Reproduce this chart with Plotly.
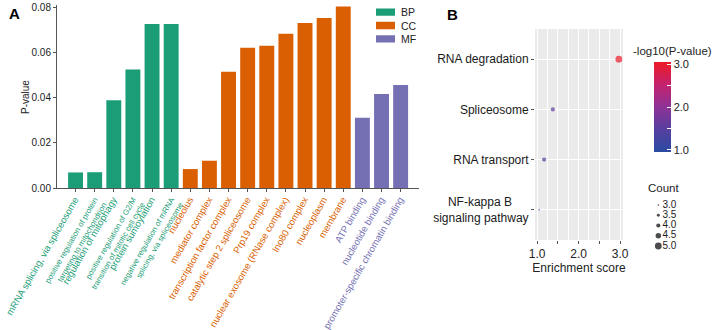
import plotly.graph_objects as go

# ---------------- Panel A data ----------------
bp_terms = ["mRNA splicing, via spliceosome",
            "positive regulation of protein<br>targeting to mitochondrion",
            "regulation of mitophagy",
            "positive regulation of G2/M<br>transition of mitotic cell cycle",
            "protein sumoylation",
            "negative regulation of mRNA<br>splicing, via spliceosome"]
bp_vals = [0.0069, 0.0070, 0.0389, 0.0526, 0.0728, 0.0728]

cc_terms = ["nucleolus", "mediator complex", "transcription factor complex",
            "catalytic step 2 spliceosome", "Prp19 complex",
            "nuclear exosome (RNase complex)", "Ino80 complex", "nucleoplasm", "membrane"]
cc_vals = [0.0084, 0.0121, 0.0516, 0.0622, 0.0631, 0.0684, 0.0732, 0.0754, 0.0805]

mf_terms = ["ATP binding", "nucleotide binding", "promoter-specific chromatin binding"]
mf_vals = [0.0312, 0.0417, 0.0457]

group_names = ["BP", "CC", "MF"]

y_ticks_a = [0.0, 0.02, 0.04, 0.06, 0.08]
y_ticklabels_a = ["0.00", "0.02", "0.04", "0.06", "0.08"]

# ---------------- Panel B data ----------------
pathways = ["RNA degradation", "Spliceosome", "RNA transport", "NF-kappa B signaling pathway"]
pathway_labels = ["RNA degradation", "Spliceosome", "RNA transport",
                  "NF-kappa B&nbsp;&nbsp;&nbsp;&nbsp;&nbsp;<br>signaling pathway"]
enrichment = [2.97, 1.38, 1.17, 1.05]
neglog_p = [3.02, 1.55, 1.35, 1.02]
counts = [5, 4, 4, 3]
count_levels = [3.0, 3.5, 4.0, 4.5, 5.0]
count_labels = ["3.0", "3.5", "4.0", "4.5", "5.0"]
x_ticks_b = [1, 1.5, 2, 2.5, 3]
x_ticklabels_b = ["1.0", "", "2.0", "", "3.0"]

COL = {"BP": "#1B9E77", "CC": "#D95F02", "MF": "#7570B3"}
FONT = "Liberation Sans, Arial, sans-serif"
W, H = 716, 330

def size_of(c):
    return 1.6 + (c - 3.0) * 2.6

fig = go.Figure()

groups = [("BP", bp_terms, bp_vals), ("CC", cc_terms, cc_vals), ("MF", mf_terms, mf_vals)]
all_terms = []
tick_text = []
for name, terms, vals in groups:
    fig.add_trace(go.Bar(x=terms, y=vals, name=name, marker_color=COL[name],
                         marker_line_width=0, xaxis="x", yaxis="y", showlegend=False))
    for t in terms:
        all_terms.append(t)
        if "<br>" in t:
            parts = t.split("<br>")
            tick_text.append("<br>".join(
                f"<span style='color:{COL[name]}'>{p}</span>" for p in parts))
        else:
            tick_text.append(f"<span style='font-size:9.5px;color:{COL[name]}'>{t}</span>")

# Group key (BP / CC / MF) drawn as small horizontal bars on a hidden axis
fig.add_trace(go.Bar(y=group_names, x=[1] * len(group_names), orientation="h",
                     xaxis="x3", yaxis="y3", width=0.55, showlegend=False,
                     marker_color=[COL[g] for g in group_names], marker_line_width=0,
                     text=["&nbsp;" + g for g in group_names], textposition="outside",
                     cliponaxis=False, constraintext="none", textangle=0,
                     textfont=dict(size=10.5, color="#222"), hoverinfo="skip"))

# Panel B bubbles
cs = [[0.0, "#2a4ba2"], [0.25, "#563f9f"], [0.5, "#8e3296"], [0.75, "#c4226e"], [1.0, "#ee1b26"]]
fig.add_trace(go.Scatter(
    x=enrichment, y=pathways, mode="markers", xaxis="x2", yaxis="y2", showlegend=False,
    marker=dict(size=[size_of(c) for c in counts], color=neglog_p, colorscale=cs,
                cmin=0.95, cmax=3.05, line_width=0,
                colorbar=dict(x=654/W, xanchor="left", y=1-62/H, yanchor="top",
                              len=90/H, lenmode="fraction", thickness=17, xpad=0, ypad=0,
                              outlinewidth=0, ticks="inside", ticklen=4, tickcolor="white",
                              tickvals=[1, 1.5, 2, 2.5, 3],
                              ticktext=["1.0", "", "2.0", "", "3.0"],
                              tickfont=dict(size=11, color="#222", family=FONT)))))

# Count key drawn on a hidden axis
fig.add_trace(go.Scatter(x=[0] * len(count_levels), y=count_levels, mode="markers",
                         xaxis="x4", yaxis="y4", showlegend=False, cliponaxis=False,
                         hoverinfo="skip",
                         marker=dict(size=[size_of(c) for c in count_levels], color="black",
                                     line_width=0)))
fig.add_trace(go.Scatter(x=[0.1] * len(count_levels), y=count_levels, mode="text",
                         xaxis="x4", yaxis="y4", showlegend=False, cliponaxis=False,
                         text=count_labels, textposition="middle right",
                         textfont=dict(size=10, color="#222"), hoverinfo="skip"))

hidden = dict(visible=False, showgrid=False, zeroline=False, fixedrange=True)

fig.update_layout(
    width=W, height=H, margin=dict(l=0, r=0, t=0, b=0, autoexpand=False),
    paper_bgcolor="white", plot_bgcolor="white",
    font=dict(family=FONT, color="#222"),
    bargap=0.22, showlegend=False,
    xaxis=dict(domain=[57/W, 419/W], range=[-0.97, 17.96], tickmode="array",
               tickvals=all_terms, ticktext=tick_text, tickangle=-60,
               tickfont=dict(size=7.8, family=FONT), ticks="outside", ticklen=3,
               tickcolor="#555", showline=True, linecolor="#555", linewidth=1,
               showgrid=False, anchor="y", automargin=False),
    yaxis=dict(domain=[(H-188)/H, 325/H], range=[0, 0.0812], tickvals=y_ticks_a,
               ticktext=y_ticklabels_a, ticks="outside", ticklen=3, tickcolor="#555",
               showline=True, linecolor="#555", linewidth=1, showgrid=False, zeroline=False,
               tickfont=dict(size=10, color="#222"), automargin=False, anchor="x"),
    xaxis2=dict(domain=[535/W, 623/W], range=[0.95, 3.07], anchor="y2",
                tickvals=x_ticks_b, ticktext=x_ticklabels_b,
                ticks="outside", ticklen=3, tickcolor="#555", automargin=False,
                tickfont=dict(size=12, color="#222"),
                showgrid=True, gridcolor="white", gridwidth=1,
                minor=dict(dtick=0.25, tick0=1, showgrid=True, gridcolor="white", gridwidth=0.6),
                zeroline=False, showline=False,
                title=dict(text="Enrichment score", font=dict(size=12), standoff=0)),
    yaxis2=dict(domain=[90/H, 301/H], anchor="x2", type="category",
                categoryorder="array", categoryarray=pathways[::-1], range=[-0.6, 3.6],
                tickmode="array", tickvals=pathways, ticktext=pathway_labels,
                ticks="outside", ticklen=3, tickcolor="#555", automargin=False,
                tickfont=dict(size=12, color="#1a1a1a"),
                showgrid=True, gridcolor="white", gridwidth=1, zeroline=False),
    xaxis3=dict(domain=[376/W, 433/W], range=[0, 3], anchor="y3", **hidden),
    yaxis3=dict(domain=[1-45.5/H, 1-5.5/H], range=[2.5, -0.5], anchor="x3", type="category",
                categoryorder="array", categoryarray=group_names, **hidden),
    xaxis4=dict(domain=[650/W, 700/W], range=[-0.2, 1], anchor="y4", **hidden),
    yaxis4=dict(domain=[1-250/H, 1-201/H], range=[5.195, 2.805], anchor="x4", **hidden),
    annotations=[
        dict(text="<b>A</b>", x=15/W, y=1-13.5/H, xref="paper", yref="paper",
             showarrow=False, font=dict(size=15, color="black"), xanchor="center",
             yanchor="middle"),
        dict(text="<b>B</b>", x=453/W, y=1-15/H, xref="paper", yref="paper",
             showarrow=False, font=dict(size=15, color="black"), xanchor="center",
             yanchor="middle"),
        dict(text="P-value", x=25/W, y=1-97/H, xref="paper", yref="paper", textangle=-90,
             showarrow=False, font=dict(size=10, color="#222"), xanchor="center",
             yanchor="middle"),
        dict(text="-log10(P-value)", x=631/W, y=1-51/H, xref="paper", yref="paper",
             showarrow=False, font=dict(size=11.5, color="#222"), xanchor="left",
             yanchor="middle"),
        dict(text="Count", x=646/W, y=1-188/H, xref="paper", yref="paper",
             showarrow=False, font=dict(size=11.5, color="#222"), xanchor="left",
             yanchor="middle"),
    ],
)
fig.add_shape(type="rect", xref="x2 domain", yref="y2 domain", x0=0, x1=1, y0=0, y1=1,
              fillcolor="#EBEBEB", line_width=0, layer="below")

fig.write_html("out.html", config={"displayModeBar": False},
               post_script="document.body.style.margin='0';")
